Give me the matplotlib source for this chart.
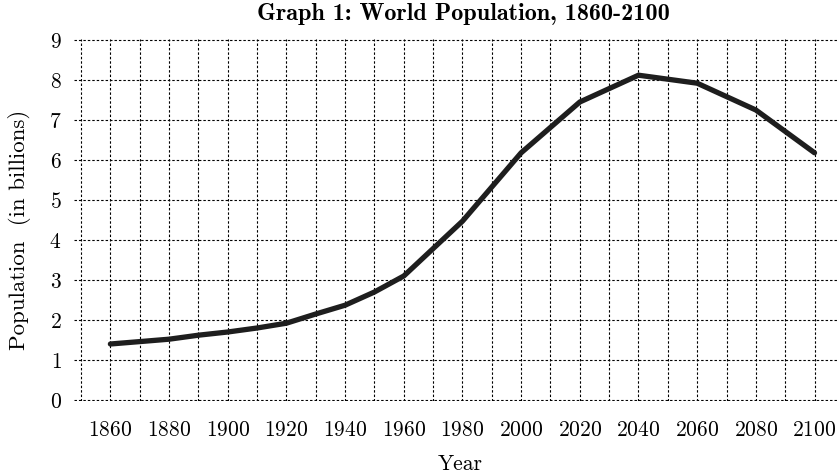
import matplotlib
matplotlib.use("Agg")
import matplotlib.pyplot as plt
from matplotlib.ticker import MultipleLocator

plt.rcParams['font.family'] = ['cmr10', 'DejaVu Serif']
plt.rcParams['axes.formatter.use_mathtext'] = True

#### Données ####
annees = [1860, 1880, 1890, 1900, 1910, 1920, 1930, 1940, 1950, 1960,
          1980, 2000, 2020, 2040, 2060, 2080, 2100]
population = [1.4, 1.52, 1.62, 1.7, 1.8, 1.92, 2.15, 2.37, 2.7, 3.1,
              4.47, 6.18, 7.45, 8.12, 7.92, 7.25, 6.18]
xticks = list(range(1860, 2101, 20))
yticks = list(range(0, 10))

#### Figure ####
fig = plt.figure(figsize=(8.38, 4.75), dpi=100)
ax = fig.add_axes([74/838, 1-401/475, 1-74/838, 362/475])

ax.plot(annees, population, color='#1e1e1e', lw=3.8, solid_capstyle='round',
        solid_joinstyle='round', zorder=3)

ax.set_xlim(1847.6, 2108)
ax.set_ylim(-0.025, 9.025)
ax.set_xticks(xticks)
ax.xaxis.set_minor_locator(MultipleLocator(10))
ax.set_yticks(yticks)

for s in ax.spines.values():
    s.set_visible(False)
ax.grid(True, which='both', axis='x', color='black', ls=(0, (2.2, 1.8)), lw=0.8)
ax.grid(True, which='major', axis='y', color='black', ls=(0, (2.2, 1.8)), lw=0.8)
ax.tick_params(axis='both', which='both', length=0, labelsize=15.5)
ax.tick_params(axis='y', pad=9)
ax.tick_params(axis='x', pad=14)

ax.set_xlabel('Year', fontsize=15.5)
ax.set_ylabel('Population  (in billions)', fontsize=16.5)
ax.xaxis.set_label_coords((460-74)/764, -(454-401)/362)
ax.yaxis.set_label_coords(-(74-31)/764, (401-230)/362)
fig.text(463/838, 1-14/475, 'Graph 1: World Population, 1860-2100',
         ha='center', va='center', fontsize=17.4, family=['cmb10', 'DejaVu Serif'])

fig.savefig('out.png', dpi=100)
